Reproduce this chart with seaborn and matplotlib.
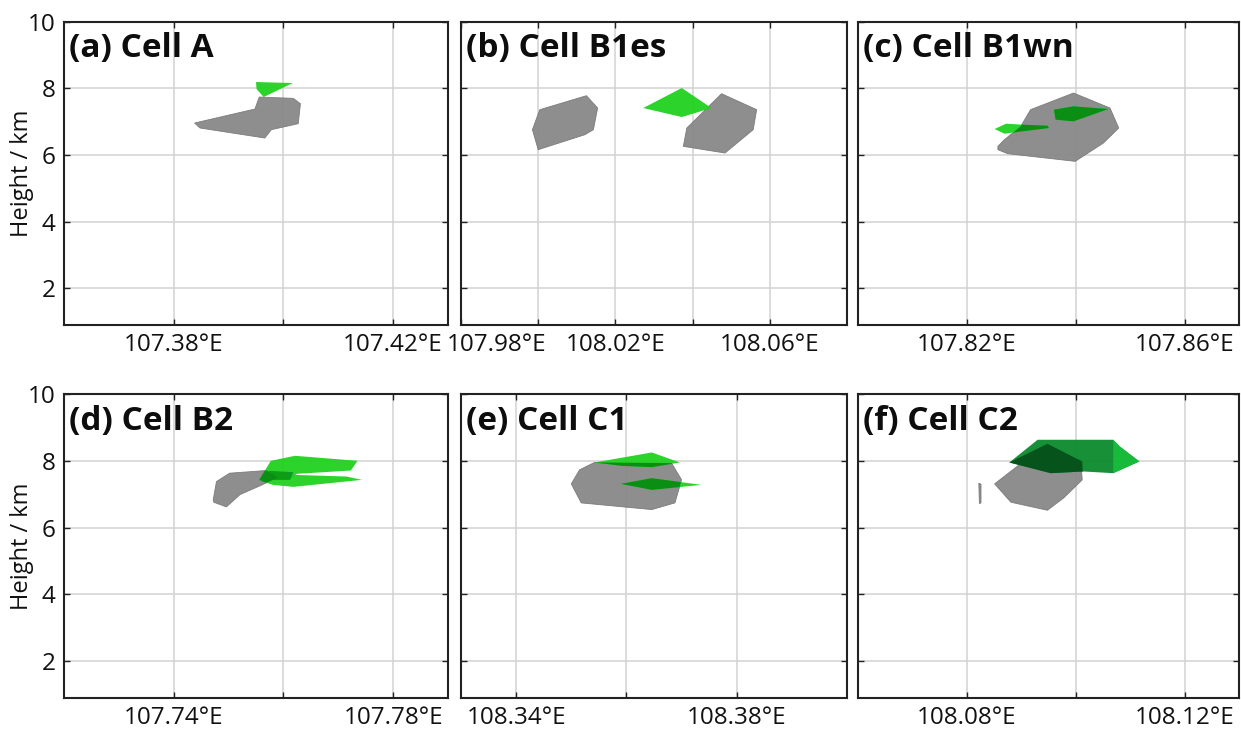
import matplotlib
matplotlib.use("Agg")
import matplotlib.pyplot as plt
import seaborn as sns
from matplotlib.transforms import ScaledTranslation

# ---------------------------------------------------------------------------
# Projected outlines (longitude, height in km) of the reflectivity core (gray)
# and the lightning-source volume (green) for each convective cell.
# ---------------------------------------------------------------------------
cell_titles = ["(a) Cell A", "(b) Cell B1es", "(c) Cell B1wn",
               "(d) Cell B2", "(e) Cell C1", "(f) Cell C2"]

a_gray = [[(107.3838, 6.96), (107.3948, 7.38), (107.3956, 7.74), (107.4018, 7.70),
           (107.4031, 7.54), (107.4027, 6.94), (107.3978, 6.76), (107.3966, 6.51),
           (107.3848, 6.81)]]
a_green = [[(107.3950, 8.19), (107.4017, 8.16), (107.3964, 7.74), (107.3951, 7.98)]]

b_gray = [[(108.0004, 7.36), (108.0125, 7.78), (108.0154, 7.41), (108.0143, 6.76),
           (108.0121, 6.61), (108.0000, 6.16), (107.9985, 6.76)],
          [(108.0385, 6.81), (108.0475, 7.84), (108.0566, 7.36), (108.0557, 6.76),
           (108.0484, 6.06), (108.0376, 6.26)]]
b_green = [[(108.0272, 7.41), (108.0372, 8.01), (108.0449, 7.41), (108.0372, 7.14)]]

c_gray = [[(107.8257, 6.26), (107.8269, 6.46), (107.8299, 6.86), (107.8317, 7.36),
           (107.8396, 7.86), (107.8463, 7.41), (107.8479, 6.81), (107.8451, 6.36),
           (107.8399, 5.81), (107.8275, 6.04), (107.8257, 6.16)]]
c_green = [[(107.8251, 6.78), (107.8272, 6.94), (107.8302, 6.91), (107.8348, 6.88),
            (107.8351, 6.81), (107.8311, 6.73), (107.8269, 6.64)],
           [(107.8360, 7.36), (107.8396, 7.46), (107.8460, 7.38), (107.8396, 7.01),
            (107.8363, 7.06)]]

d_gray = [[(107.7472, 6.84), (107.7478, 7.38), (107.7502, 7.63), (107.7569, 7.71),
           (107.7590, 7.50), (107.7557, 7.25), (107.7521, 6.99), (107.7496, 6.62),
           (107.7473, 6.76)]]
d_green = [[(107.7556, 7.43), (107.7577, 8.00), (107.7621, 8.15), (107.7735, 8.00),
            (107.7723, 7.71), (107.7624, 7.61), (107.7612, 7.43)],
           [(107.7557, 7.41), (107.7618, 7.58), (107.7715, 7.53), (107.7743, 7.43),
            (107.7618, 7.22), (107.7581, 7.28)],
           [(107.7556, 7.43), (107.7574, 7.70), (107.7618, 7.66), (107.7612, 7.43)]]

e_gray = [[(108.3500, 7.31), (108.3515, 7.73), (108.3542, 7.95), (108.3682, 7.93),
           (108.3700, 7.43), (108.3688, 6.74), (108.3646, 6.54), (108.3518, 6.74)]]
e_green = [[(108.3542, 7.95), (108.3646, 8.25), (108.3697, 7.95), (108.3646, 7.81),
            (108.3591, 7.85)],
           [(108.3590, 7.31), (108.3646, 7.48), (108.3736, 7.28), (108.3646, 7.13)]]

f_gray = [[(108.0851, 7.31), (108.0896, 7.88), (108.0950, 8.10), (108.1009, 8.03),
           (108.1012, 7.43), (108.0978, 6.89), (108.0948, 6.52), (108.0881, 6.76)],
          [(108.0822, 7.33), (108.0826, 7.30), (108.0826, 6.74), (108.0823, 6.72)]]
f_green = [[(108.0878, 7.95), (108.0930, 8.63), (108.1069, 8.63), (108.1081, 8.43),
            (108.1117, 7.98), (108.1069, 7.63), (108.1015, 7.68), (108.0954, 7.63)],
           [(108.0878, 7.95), (108.0948, 8.51), (108.1012, 7.98), (108.1013, 7.68),
            (108.0954, 7.63)],
           [(108.1069, 8.63), (108.1081, 8.43), (108.1117, 7.98), (108.1069, 7.63)]]

# longitude axes: limits, tick positions and tick labels
x_limits = [(107.36, 107.43), (107.98, 108.08), (107.80, 107.87),
            (107.72, 107.79), (108.33, 108.40), (108.06, 108.13)]
x_ticks = [[107.38, 107.40, 107.42],
           [107.98, 108.00, 108.02, 108.04, 108.06],
           [107.82, 107.84, 107.86],
           [107.74, 107.76, 107.78],
           [108.34, 108.36, 108.38],
           [108.08, 108.10, 108.12]]
x_ticklabels = [["107.38°E", "", "107.42°E"],
                ["107.98°E", "", "108.02°E", "", "108.06°E"],
                ["107.82°E", "", "107.86°E"],
                ["107.74°E", "", "107.78°E"],
                ["108.34°E", "", "108.38°E"],
                ["108.08°E", "", "108.12°E"]]
y_limits = (0.9, 10.0)
y_ticks = [2, 4, 6, 8, 10]

gray_polys = [a_gray, b_gray, c_gray, d_gray, e_gray, f_gray]
green_polys = [a_green, b_green, c_green, d_green, e_green, f_green]

# ---------------------------------------------------------------------------
# styling
# ---------------------------------------------------------------------------
green_shades = [["shaded"], ["bright"], ["shaded", "shaded"],
                ["shaded", "shaded", "under"], ["shaded", "shaded"],
                ["mid", "dark", "light"]]
GREEN = {"bright": "#1fd11f", "shaded": "#1fd11f", "under": "#0c9a16",
         "mid": "#0b8a2c", "dark": "#06501a", "light": "#17bd3c"}
GREEN_UNDER = "#0a8f14"
GRAY = "#858585"
GRAY_EDGE = "#777777"

sns.set_theme(style="ticks")
plt.rcParams["font.family"] = ["Open Sans", "DejaVu Sans"]

W, H = 1241, 730
fig = plt.figure(figsize=(W / 100, H / 100), dpi=100)

col_px = [(64, 448), (461, 847), (858, 1239)]
row_px = [(21.7, 325), (394, 698)]

for i in range(6):
    r, c = divmod(i, 3)
    x0, x1 = col_px[c]
    y0, y1 = row_px[r]
    ax = fig.add_axes([x0 / W, (H - y1) / H, (x1 - x0) / W, (y1 - y0) / H])

    ax.set_xlim(*x_limits[i])
    ax.set_ylim(*y_limits)
    ax.set_xticks(x_ticks[i])
    ax.set_xticklabels(x_ticklabels[i])
    ax.set_yticks(y_ticks)
    ax.set_axisbelow(True)
    ax.grid(True, color="#d2d2d2", lw=1.1)

    gray_patches = []
    for poly in gray_polys[i]:
        lon, hgt = zip(*poly)
        p = ax.fill(lon, hgt, fc=GRAY, ec=GRAY_EDGE, lw=0.6, alpha=0.92, zorder=2)[0]
        gray_patches.append(p)

    for poly, shade in zip(green_polys[i], green_shades[i]):
        lon, hgt = zip(*poly)
        ax.fill(lon, hgt, fc=GREEN[shade], ec="none", alpha=0.95, zorder=3)
        if shade == "shaded":
            # the part of the lightning volume lying in front of the core is darker
            for gp in gray_patches:
                under = ax.fill(lon, hgt, fc=GREEN_UNDER, ec="none", zorder=4)[0]
                under.set_clip_path(gp)

    ax.text(0.012, 0.882, cell_titles[i], transform=ax.transAxes,
            fontsize=24, fontweight="bold", ha="left", va="baseline",
            color="#0d0d0d", zorder=6)

    ax.tick_params(direction="in", length=4.5, width=1.0, top=True, right=True,
                   labelsize=17.5, pad=6, color="#222222", labelcolor="#111111",
                   labelleft=(c == 0))
    for sp in ax.spines.values():
        sp.set_linewidth(1.5)
        sp.set_color("#222222")
        sp.set_visible(True)

    if c == 0:
        ax.set_ylabel("Height / km", fontsize=17, color="#111111")
        ax.yaxis.set_label_coords(-0.078, 0.5)

    if i == 1:
        # keep the leftmost longitude label clear of the neighbouring panel
        lab = ax.get_xticklabels()[0]
        lab.set_horizontalalignment("left")
        lab.set_transform(lab.get_transform() +
                          ScaledTranslation(-14 / 100, 0, fig.dpi_scale_trans))

fig.savefig("out.png", dpi=100)
